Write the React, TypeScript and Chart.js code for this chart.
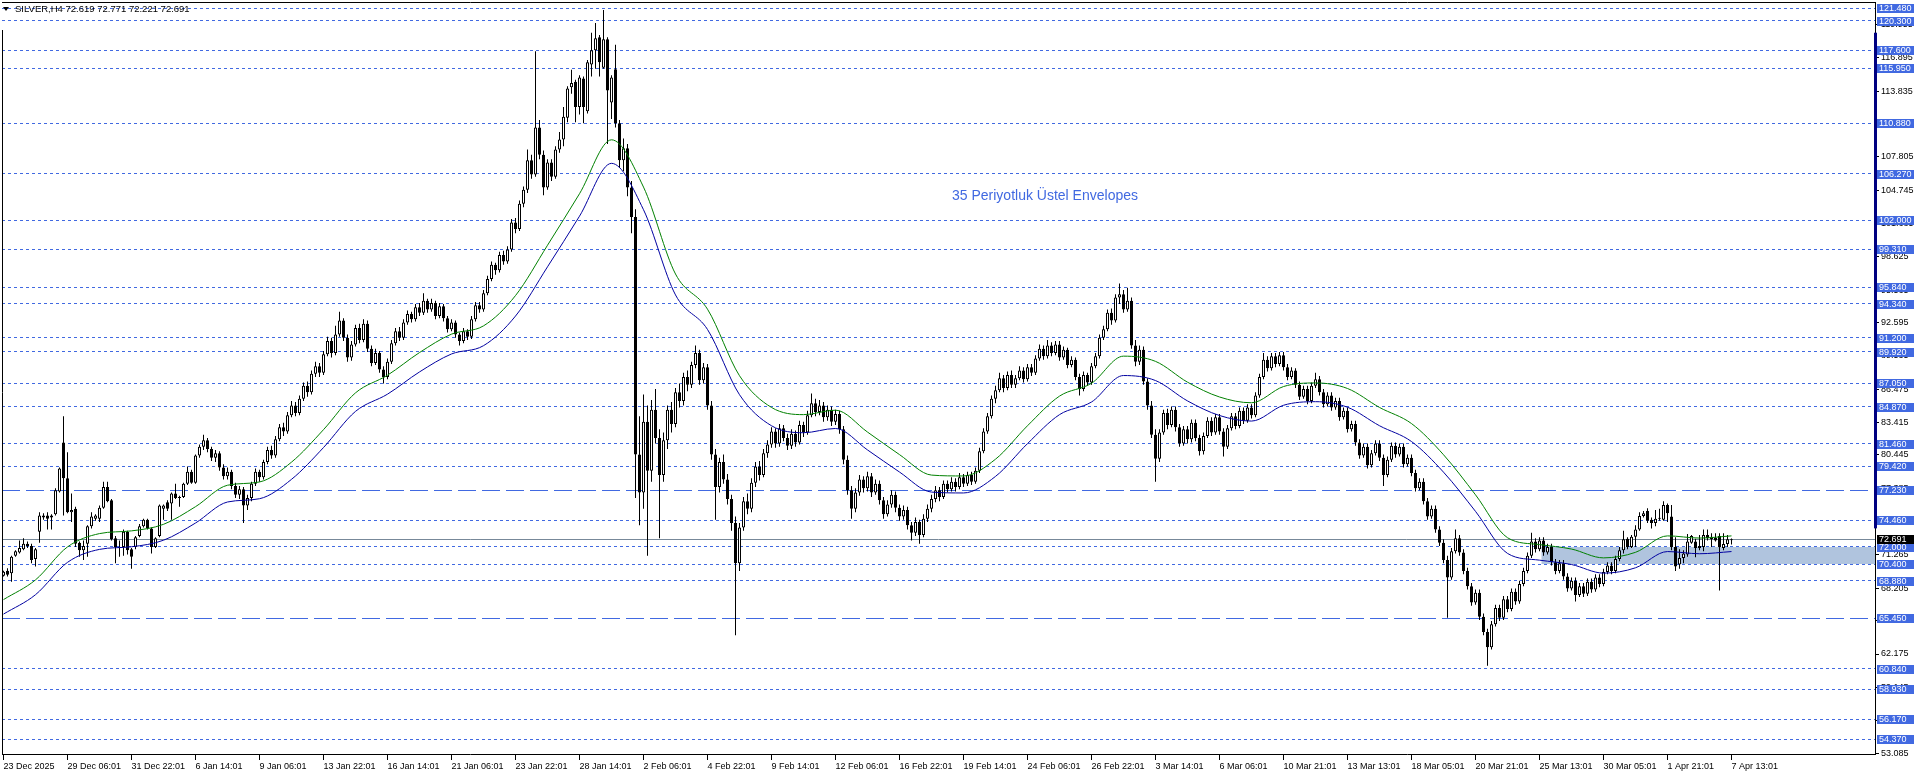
import React, { useEffect, useRef } from 'react';
import { Chart, registerables } from 'chart.js';

Chart.register(...registerables);

// ---------------- DATA ----------------
const opens = [
69.35,69.83,69.6,71.2,71.5,71.8,72.3,72.1,70.9,73.4,
74.7,74.9,74.7,75.0,77.1,81.6,78.3,75.2,75.5,72.4,
71.7,72.3,73.9,74.6,74.6,75.6,77.5,76.3,72.8,72.0,
72.0,73.4,71.8,72.0,73.0,73.9,74.5,73.7,72.0,73.0,
75.5,76.1,76.0,76.9,76.5,76.6,77.8,78.9,77.9,80.4,
81.2,81.8,81.0,80.2,80.6,79.3,78.5,78.9,77.6,76.8,
77.3,75.8,76.5,77.8,78.9,78.4,79.8,80.9,80.4,81.9,
83.0,82.6,84.1,85.0,84.3,85.6,86.8,86.2,87.9,88.6,
88.0,89.7,90.9,89.8,91.5,92.8,91.2,89.4,90.6,92.1,
91.0,92.5,90.2,88.9,89.8,88.3,87.6,89.0,90.7,91.8,
91.2,92.6,93.4,92.9,94.0,93.5,94.6,93.8,94.4,93.2,
94.1,93.0,92.0,92.6,91.5,90.9,91.8,91.3,92.9,94.2,
93.8,95.3,96.6,97.9,97.4,98.8,98.2,99.3,101.8,101.2,
103.5,104.8,107.5,106.2,110.5,108.0,105.0,107.3,106.0,108.5,
109.4,111.4,114.2,114.7,112.4,115.0,112.0,116.3,117.6,118.8,
116.0,118.6,112.8,115.85,110.9,107.5,108.6,105.0,102.3,80.5,
77.0,83.5,79.0,84.6,82.0,78.6,81.8,84.6,83.3,86.2,
85.4,87.6,86.9,88.7,89.8,87.3,88.5,85.0,80.5,77.5,
79.8,78.2,76.4,74.2,70.5,73.8,76.2,75.5,77.9,79.4,
78.6,80.6,81.4,82.6,81.5,82.9,82.0,81.3,82.4,81.6,
83.2,82.5,84.1,85.2,84.4,85.0,83.9,84.6,83.5,84.2,
82.8,80.0,77.2,75.5,77.0,78.2,77.4,78.5,77.0,77.8,
76.3,75.0,75.9,76.8,75.6,74.8,75.4,74.0,73.3,74.3,
73.1,74.6,75.5,76.4,77.2,76.6,77.8,77.3,78.0,77.5,
78.4,77.8,78.6,78.0,79.0,80.8,82.6,84.0,85.6,86.4,
87.5,86.6,87.8,86.9,87.5,88.2,87.4,88.5,88.0,89.3,
90.2,89.5,90.5,89.8,90.6,89.4,90.1,88.7,89.2,87.6,
86.5,87.8,87.1,88.6,89.5,91.2,92.0,93.5,92.8,94.9,
95.2,93.8,94.6,90.5,89.0,90.1,87.2,85.0,82.3,80.1,
82.5,84.3,83.2,84.6,83.0,81.5,82.8,81.9,83.4,82.0,
80.8,82.2,83.6,82.5,83.9,82.6,81.2,82.9,84.0,83.1,
84.5,83.6,84.8,84.1,85.9,87.6,89.2,88.4,89.5,88.8,
89.6,88.5,87.6,88.2,86.9,85.8,86.5,85.4,86.8,87.4,
86.2,85.1,85.9,84.8,85.4,83.9,84.5,82.8,83.3,81.6,
80.4,81.2,79.5,80.6,81.5,80.2,78.6,80.0,81.3,80.5,
81.2,79.6,80.2,78.8,77.4,78.0,76.2,74.8,75.5,73.6,
72.4,70.8,69.2,71.6,72.8,71.5,69.8,68.4,66.9,67.8,
65.6,64.2,62.8,64.9,66.4,65.5,67.2,66.3,67.9,67.0,
68.6,69.8,71.2,72.5,71.8,72.6,71.5,72.0,70.6,69.8,
70.5,69.3,68.2,68.9,67.6,68.4,67.7,68.8,68.1,69.2,
68.6,69.7,70.3,69.8,70.9,71.7,72.76,72.0,72.95,73.6,
74.84,75.3,74.5,74.2,74.6,74.5,75.85,74.8,72.0,70.4,
71.0,71.3,72.4,72.5,71.9,72.0,73.1,72.95,72.85,73.0,
71.9,72.27,72.619
];

const highs = [
69.83,70.05,71.2,71.7,72.6,72.8,72.5,72.3,71.9,75.2,
75.1,75.2,75.0,77.4,79.3,84.0,80.7,76.9,75.7,72.5,
72.6,74.0,75.2,75.0,75.8,78.0,78.0,76.4,73.0,72.6,
73.6,73.5,71.9,73.0,74.1,74.6,74.6,73.8,72.9,75.9,
75.9,76.3,77.0,77.8,76.7,77.9,79.4,79.1,80.5,81.4,
82.3,82.0,81.2,80.9,80.8,79.6,79.3,79.1,77.9,77.6,
77.5,76.8,78.0,79.2,79.1,80.0,81.2,81.3,82.2,83.3,
83.4,84.4,85.4,85.3,85.9,87.1,87.2,88.2,89.0,88.9,
90.0,91.3,91.2,92.3,93.6,93.0,91.5,90.9,92.4,92.5,
92.9,92.8,90.5,90.2,90.0,88.6,89.3,91.0,92.1,92.2,
92.9,93.7,93.6,94.3,94.4,95.3,94.8,94.8,94.6,94.4,
94.3,93.2,92.9,92.8,91.7,92.1,92.0,93.2,94.5,94.5,
95.6,96.9,98.2,98.1,99.1,99.2,99.6,102.1,102.2,103.8,
105.1,108.5,108.0,117.5,111.2,108.4,107.6,107.6,108.8,110.1,
112.4,114.3,115.8,114.9,115.3,115.2,116.7,119.2,120.1,119.0,
121.3,118.8,115.3,118.1,111.2,109.5,109.0,105.6,103.0,84.0,
86.0,85.0,85.5,86.5,82.8,82.5,85.0,85.3,86.6,87.0,
88.0,88.2,89.0,90.5,90.1,88.9,88.8,85.4,81.0,80.2,
80.5,78.7,76.8,74.8,74.2,76.6,76.9,78.3,79.8,79.9,
81.0,81.8,83.0,82.9,83.3,83.2,82.4,82.8,82.7,83.6,
83.5,84.5,86.1,85.6,85.5,85.3,85.0,84.9,84.6,84.5,
83.1,80.4,77.6,77.4,78.6,78.5,78.9,78.8,78.2,78.1,
76.6,76.3,77.2,77.1,75.9,75.8,75.7,74.3,74.7,74.5,
75.0,75.9,76.8,77.6,77.5,78.1,78.1,78.4,78.3,78.8,
78.7,78.9,78.9,79.3,81.1,82.9,84.3,85.9,86.8,88.0,
87.8,88.1,88.2,87.8,88.6,88.5,88.8,88.8,89.6,90.6,
90.5,91.0,90.8,90.9,90.9,90.4,90.3,89.5,89.4,87.9,
88.1,88.0,88.9,89.8,91.5,92.3,93.8,93.9,95.2,96.2,
95.6,95.8,94.9,91.0,90.5,90.4,87.5,85.4,82.8,82.8,
84.6,84.7,84.9,84.9,83.3,83.1,83.1,83.7,83.7,82.3,
82.5,83.9,83.9,84.2,84.2,82.9,83.2,84.3,84.3,84.8,
84.8,85.1,85.1,86.2,87.9,89.8,89.5,89.8,89.8,89.9,
89.9,88.8,88.5,88.4,87.2,86.8,86.8,87.1,88.0,87.7,
86.5,86.2,86.2,85.7,85.7,84.8,84.8,83.6,83.6,81.9,
81.5,81.5,80.9,81.8,81.8,80.5,80.3,81.6,81.6,81.5,
81.5,80.5,80.5,79.1,78.3,78.3,76.5,75.8,75.8,73.9,
72.7,71.2,71.9,73.6,73.1,71.8,70.1,68.7,68.1,68.1,
65.9,64.5,65.2,66.7,66.7,67.5,67.5,68.2,68.2,68.9,
70.1,71.5,73.3,72.8,72.9,72.9,72.3,72.3,70.9,70.8,
70.8,69.6,69.2,69.2,68.7,68.7,69.1,69.1,69.5,69.5,
70.0,70.6,70.6,71.2,72.0,73.5,72.9,73.1,74.0,75.2,
75.3,75.55,74.7,75.4,75.5,76.2,76.0,75.85,72.9,71.8,
71.7,73.2,73.1,72.75,73.1,73.6,73.6,73.25,73.25,73.25,
73.25,73.1,72.771
];

const lows = [
69.28,69.28,68.8,71.1,71.4,71.7,71.9,70.5,70.2,72.4,
74.5,73.6,73.6,74.9,77.0,74.9,75.1,74.3,72.0,71.1,
70.8,71.1,73.7,74.4,74.3,75.5,76.1,72.6,70.5,71.1,
71.2,71.3,70.0,71.8,72.9,73.8,73.6,71.4,71.9,72.9,
74.5,75.3,74.5,76.4,75.7,76.5,77.7,77.8,77.8,80.2,
80.9,80.7,79.9,79.8,79.0,78.2,78.2,77.3,76.5,76.4,
74.2,75.4,76.2,77.6,78.0,78.2,79.6,80.1,80.2,81.7,
82.2,82.4,83.9,84.0,84.1,85.4,85.8,86.0,87.6,87.6,
87.8,89.5,89.4,89.6,91.3,90.9,89.0,89.1,90.4,90.7,
90.8,89.9,88.6,88.7,88.0,87.0,87.4,88.8,90.5,90.9,
91.0,92.4,92.6,92.7,93.2,93.3,93.5,93.6,92.9,93.0,
92.7,91.7,91.8,91.2,90.5,90.7,91.0,91.1,92.7,93.5,
93.6,95.1,96.4,97.0,97.2,97.9,98.0,99.1,100.8,101.0,
103.2,104.5,105.8,106.0,107.6,104.3,104.8,105.6,105.8,108.2,
108.8,111.0,113.6,111.0,111.7,110.9,111.8,115.2,115.9,115.2,
115.9,109.0,111.3,110.5,106.8,106.5,104.2,100.8,76.5,74.0,
75.5,71.2,78.0,81.5,72.8,78.0,81.0,82.5,83.0,84.8,
85.0,86.3,86.6,88.4,86.9,87.0,84.6,80.0,74.5,77.0,
77.8,75.9,73.5,63.9,69.8,73.5,75.0,75.2,77.5,78.1,
78.4,80.2,81.1,81.1,81.2,81.7,80.9,81.0,81.2,81.4,
82.1,82.3,83.9,84.0,84.1,83.5,83.6,83.1,83.2,82.4,
79.6,76.8,74.6,75.2,76.7,77.0,77.1,76.6,76.8,75.9,
74.6,74.8,75.6,75.2,74.4,74.5,73.6,72.6,73.0,72.3,
72.9,74.3,75.2,76.1,76.2,76.4,77.0,77.1,77.1,77.3,
77.5,77.6,77.7,77.8,78.8,80.6,82.4,83.8,85.2,86.2,
86.2,86.4,86.6,86.6,87.3,87.1,87.2,87.7,87.8,89.1,
89.2,89.3,89.5,89.6,89.1,89.2,88.4,88.5,87.3,85.9,
86.3,86.8,86.9,88.4,89.3,91.0,91.8,92.4,92.6,94.3,
93.5,93.6,90.2,88.6,88.7,86.9,84.6,82.0,78.0,79.8,
82.3,82.8,83.0,82.6,81.2,81.3,81.5,81.6,81.7,80.4,
80.5,82.0,82.2,82.3,82.3,80.3,81.0,82.7,82.8,82.9,
83.3,83.4,83.8,83.9,85.7,87.4,88.1,88.2,88.5,88.6,
88.2,87.3,87.4,86.6,85.5,85.6,85.1,85.2,86.6,85.9,
84.8,84.9,84.5,84.6,83.6,83.7,82.5,82.6,81.3,80.1,
80.2,79.2,79.3,80.4,79.9,77.6,78.4,79.8,80.2,80.3,
79.3,79.4,78.5,77.1,77.2,75.9,74.5,74.6,73.3,72.1,
70.5,65.5,69.0,71.4,71.2,69.5,68.1,66.6,66.7,65.3,
63.9,61.1,62.6,64.7,65.2,65.3,66.0,66.1,66.7,66.8,
68.4,69.6,71.0,71.5,71.6,71.2,71.3,70.3,69.5,69.6,
69.0,67.9,68.0,67.0,67.4,67.4,67.5,67.8,67.9,68.3,
68.4,69.5,69.5,69.6,70.7,71.4,71.8,71.9,72.0,73.5,
74.7,74.2,73.7,73.9,74.4,74.4,74.3,71.7,69.8,70.0,
70.5,71.1,72.3,71.05,71.7,71.6,72.6,72.0,72.5,68.0,
71.7,72.0,72.221
];

const closes = [
69.73,69.46,71.1,71.6,71.9,72.3,72.1,70.8,71.8,74.9,
74.9,74.6,74.9,77.2,79.2,78.3,75.2,75.4,72.3,71.7,
72.1,73.9,74.8,74.9,75.6,77.5,76.2,72.7,72.0,71.9,
73.4,71.7,71.1,72.9,73.9,74.5,73.7,72.0,72.8,75.8,
75.8,75.5,76.9,76.5,76.6,77.8,78.9,77.9,80.4,81.2,
81.8,81.0,80.2,80.6,79.3,78.5,78.9,77.6,76.8,77.3,
75.8,76.5,77.8,78.9,78.4,79.8,80.9,80.4,81.9,83.0,
82.6,84.1,85.0,84.3,85.6,86.8,86.2,87.9,88.6,88.0,
89.7,90.9,89.8,91.5,92.8,91.2,89.4,90.6,92.1,91.0,
92.5,90.2,88.9,89.8,88.3,87.6,89.0,90.7,91.8,91.2,
92.6,93.4,92.9,94.0,93.5,94.6,93.8,94.4,93.2,94.1,
93.0,92.0,92.6,91.5,90.9,91.8,91.3,92.9,94.2,93.8,
95.3,96.6,97.9,97.4,98.8,98.2,99.3,101.8,101.2,103.5,
104.8,107.5,106.2,110.5,108.0,105.0,107.3,106.0,108.5,109.4,
111.5,114.1,114.6,112.4,115.1,112.4,116.5,117.6,118.7,116.5,
118.6,113.9,115.1,110.9,107.5,108.6,105.0,102.3,80.5,77.0,
83.5,79.0,84.6,82.0,78.6,81.8,84.6,83.3,86.2,85.4,
87.6,86.9,88.7,89.8,87.3,88.5,85.0,80.5,77.5,79.8,
78.2,76.4,74.2,70.5,73.8,76.2,75.5,77.9,79.4,78.6,
80.6,81.4,82.6,81.5,82.9,82.0,81.3,82.4,81.6,83.2,
82.5,84.1,85.2,84.4,85.0,83.9,84.6,83.5,84.2,82.8,
80.0,77.2,75.5,77.0,78.2,77.4,78.5,77.0,77.8,76.3,
75.0,75.9,76.8,75.6,74.8,75.4,74.0,73.3,74.3,73.1,
74.6,75.5,76.4,77.2,76.6,77.8,77.3,78.0,77.5,78.4,
77.8,78.6,78.0,79.0,80.8,82.6,84.0,85.6,86.4,87.5,
86.6,87.8,86.9,87.5,88.2,87.4,88.5,88.0,89.3,90.2,
89.5,90.5,89.8,90.6,89.4,90.1,88.7,89.2,87.6,86.5,
87.8,87.1,88.6,89.5,91.2,92.0,93.5,92.8,94.9,95.2,
93.8,94.6,90.5,89.0,90.1,87.2,85.0,82.3,80.1,82.5,
84.3,83.2,84.6,83.0,81.5,82.8,81.9,83.4,82.0,80.8,
82.2,83.6,82.5,83.9,82.6,81.2,82.9,84.0,83.1,84.5,
83.6,84.8,84.1,85.9,87.6,89.2,88.4,89.5,88.8,89.6,
88.5,87.6,88.2,86.9,85.8,86.5,85.4,86.8,87.4,86.2,
85.1,85.9,84.8,85.4,83.9,84.5,82.8,83.3,81.6,80.4,
81.2,79.5,80.6,81.5,80.2,78.6,80.0,81.3,80.5,81.2,
79.6,80.2,78.8,77.4,78.0,76.2,74.8,75.5,73.6,72.4,
70.8,69.2,71.6,72.8,71.5,69.8,68.4,66.9,67.8,65.6,
64.2,62.8,64.9,66.4,65.5,67.2,66.3,67.9,67.0,68.6,
69.8,71.2,72.5,71.8,72.6,71.5,72.0,70.6,69.8,70.5,
69.3,68.2,68.9,67.6,68.4,67.7,68.8,68.1,69.2,68.6,
69.7,70.3,69.8,70.9,71.7,72.7,72.0,72.95,73.6,74.84,
75.09,74.4,74.2,74.6,74.65,75.85,75.1,72.0,70.2,71.0,
71.4,72.5,73.0,71.9,72.1,73.1,72.8,72.7,72.6,71.97,
72.27,72.7,72.691
];

// Envelope (35-period exponential) lines at every 8th bar
const envBars = [0,8,16,24,32,40,48,56,64,72,80,88,96,104,112,120,128,136,144,152,160,168,176,184,192,200,208,216,224,232,240,248,256,264,272,280,288,296,304,312,320,328,336,344,352,360,368,376,384,392,400,408,416,424,432];
const envUpper = [67.17,68.98,72.01,73.23,73.48,74.08,75.70,77.67,77.97,79.79,82.77,86.15,87.77,89.85,91.54,92.30,95.08,99.70,104.43,109.38,105.04,97.06,93.83,87.72,84.81,84.15,84.56,82.55,80.48,78.60,78.52,80.06,83.13,85.85,87.03,89.52,89.04,87.13,85.77,85.24,86.73,87.06,86.55,84.81,83.33,80.47,76.79,72.85,72.22,71.81,71.00,71.51,73.02,72.82,73.02];
const envLower = [65.84,67.62,70.59,71.78,72.02,72.62,74.20,76.13,76.43,78.21,81.13,84.45,86.03,88.07,89.72,90.48,93.20,97.72,102.37,107.22,102.96,95.14,91.97,85.98,83.13,82.49,82.88,80.91,78.88,77.04,76.96,78.48,81.49,84.15,85.31,87.74,87.28,85.41,84.07,83.56,85.01,85.34,84.83,83.13,81.68,78.87,75.27,71.41,70.79,70.39,69.60,70.09,71.58,71.38,71.58];

const timeTickBars = [0,16,32,48,64,80,96,112,128,144,160,176,192,208,224,240,256,272,288,304,320,336,352,368,384,400,416,432];
const timeLabels = ['23 Dec 2025','29 Dec 06:01','31 Dec 22:01','6 Jan 14:01','9 Jan 06:01','13 Jan 22:01','16 Jan 14:01','21 Jan 06:01','23 Jan 22:01','28 Jan 14:01','2 Feb 06:01','4 Feb 22:01','9 Feb 14:01','12 Feb 06:01','16 Feb 22:01','19 Feb 14:01','24 Feb 06:01','26 Feb 22:01','3 Mar 14:01','6 Mar 06:01','10 Mar 21:01','13 Mar 13:01','18 Mar 05:01','20 Mar 21:01','25 Mar 13:01','30 Mar 05:01','1 Apr 21:01','7 Apr 13:01'];

const priceTicks = [53.085,56.115,59.145,62.175,65.235,68.205,71.265,74.325,77.385,80.445,83.415,86.475,89.535,92.595,95.565,98.625,101.685,104.745,107.805,110.865,113.835,116.895,119.955];

const dottedLevels = [121.48,120.3,117.6,115.95,110.88,106.27,102.0,99.31,95.84,94.34,91.2,89.92,87.05,84.87,81.46,79.42,74.46,72.0,70.4,68.88,60.84,58.93,56.17,54.37];
const dashedLevels = [77.23,65.45];

const zoneTop = 72.0;
const zoneBottom = 70.4;
const zoneStartBar = 384.5;
const bidPrice = 72.691;
const rangeBarTop = 119.21;
const rangeBarBottom = 73.71;

const headerText = 'SILVER,H4 72.619 72.771 72.221 72.691';
const titleText = '35 Periyotluk Üstel Envelopes';

const yMax = 122.031;
const yMin = 52.904;
const xMin = -0.375;
const xMax = 467.875;

const FONT = 'Liberation Sans';
const LEVEL_BLUE = '#4169e1';

export default function App() {
  const ref = useRef<HTMLCanvasElement | null>(null);

  useEffect(() => {
    document.body.style.margin = '0';
    const canvas = ref.current;
    if (!canvas) return;

    const bodyData = closes.map((c, i) => ({ x: i, y: [opens[i], c] }));
    const wickData = closes.map((_, i) => ({ x: i, y: [lows[i], highs[i]] }));
    const bodyColors = closes.map((c, i) => (c >= opens[i] ? '#ffffff' : '#000000'));
    const upperData = envBars.map((b, k) => ({ x: b, y: envUpper[k] }));
    const lowerData = envBars.map((b, k) => ({ x: b, y: envLower[k] }));

    const overlay: any = {
      id: 'mt4overlay',
      beforeDatasetsDraw(chart: any) {
        const { ctx, chartArea: a, scales } = chart;
        const xs = scales.x;
        const ys = scales.y;
        ctx.save();
        ctx.beginPath();
        ctx.rect(a.left, a.top, a.right - a.left, a.bottom - a.top);
        ctx.clip();
        const zx = xs.getPixelForValue(zoneStartBar);
        const zt = Math.round(ys.getPixelForValue(zoneTop));
        const zb = Math.round(ys.getPixelForValue(zoneBottom));
        ctx.fillStyle = '#b0c4de';
        ctx.fillRect(zx, zt, a.right - zx, zb - zt);
        ctx.lineWidth = 1;
        ctx.strokeStyle = LEVEL_BLUE;
        ctx.setLineDash([3, 3]);
        for (const v of dottedLevels) {
          const y = Math.floor(ys.getPixelForValue(v)) + 0.5;
          ctx.beginPath();
          ctx.moveTo(a.left, y);
          ctx.lineTo(a.right, y);
          ctx.stroke();
        }
        ctx.setLineDash([18, 6]);
        for (const v of dashedLevels) {
          const y = Math.floor(ys.getPixelForValue(v)) + 0.5;
          ctx.beginPath();
          ctx.moveTo(a.left, y);
          ctx.lineTo(a.right, y);
          ctx.stroke();
        }
        ctx.setLineDash([]);
        ctx.strokeStyle = '#778899';
        const by = Math.floor(ys.getPixelForValue(bidPrice)) + 0.5;
        ctx.beginPath();
        ctx.moveTo(a.left, by);
        ctx.lineTo(a.right, by);
        ctx.stroke();
        ctx.restore();
      },
      afterDraw(chart: any) {
        const { ctx, chartArea: a, scales } = chart;
        const ys = scales.y;
        ctx.save();
        ctx.strokeStyle = '#000';
        ctx.lineWidth = 1;
        ctx.setLineDash([]);
        ctx.beginPath();
        ctx.moveTo(a.left, a.top + 0.5);
        ctx.lineTo(a.right + 1, a.top + 0.5);
        ctx.moveTo(a.right + 0.5, a.top);
        ctx.lineTo(a.right + 0.5, a.bottom);
        ctx.moveTo(a.left, a.bottom - 0.5);
        ctx.lineTo(a.right + 1, a.bottom - 0.5);
        ctx.moveTo(a.left + 0.5, 30);
        ctx.lineTo(a.left + 0.5, a.bottom);
        ctx.stroke();
        const rt = ys.getPixelForValue(rangeBarTop);
        const rb = ys.getPixelForValue(rangeBarBottom);
        ctx.fillStyle = '#000080';
        ctx.fillRect(a.right - 1, rt, 3, rb - rt);
        ctx.font = `9px "${FONT}"`;
        ctx.textBaseline = 'middle';
        ctx.textAlign = 'left';
        const tags = [...dottedLevels, ...dashedLevels];
        for (const v of tags) {
          const cy = Math.round(ys.getPixelForValue(v));
          ctx.fillStyle = LEVEL_BLUE;
          ctx.fillRect(a.right + 2, cy - 4, 37, 9);
          ctx.fillStyle = '#ffffff';
          ctx.fillText(v.toFixed(3), a.right + 4, cy + 0.5);
        }
        const bcy = Math.round(ys.getPixelForValue(bidPrice));
        ctx.fillStyle = '#000000';
        ctx.fillRect(a.right + 2, bcy - 4, 37, 9);
        ctx.fillStyle = '#ffffff';
        ctx.fillText(bidPrice.toFixed(3), a.right + 4, bcy + 0.5);
        ctx.fillStyle = '#000';
        ctx.beginPath();
        ctx.moveTo(3, 7);
        ctx.lineTo(9, 7);
        ctx.lineTo(6, 11);
        ctx.closePath();
        ctx.fill();
        ctx.font = `9.5px "${FONT}"`;
        ctx.fillText(headerText, 15, 9.5);
        ctx.fillStyle = LEVEL_BLUE;
        ctx.font = `14px "${FONT}"`;
        ctx.fillText(titleText, 952, 196);
        ctx.restore();
      },
    };

    const chart = new Chart(canvas, {
      type: 'bar',
      data: {
        datasets: [
          {
            type: 'line',
            label: 'Upper',
            data: upperData,
            borderColor: '#008000',
            borderWidth: 1,
            pointRadius: 0,
            cubicInterpolationMode: 'monotone',
            fill: false,
          } as any,
          {
            type: 'line',
            label: 'Lower',
            data: lowerData,
            borderColor: '#0000a0',
            borderWidth: 1,
            pointRadius: 0,
            cubicInterpolationMode: 'monotone',
            fill: false,
          } as any,
          {
            type: 'bar',
            label: 'Body',
            data: bodyData,
            backgroundColor: bodyColors,
            borderColor: '#000000',
            borderWidth: 1,
            borderSkipped: false,
            barThickness: 3,
            minBarLength: 1,
            grouped: false,
            inflateAmount: 0,
          } as any,
          {
            type: 'bar',
            label: 'Wick',
            data: wickData,
            backgroundColor: '#000000',
            borderWidth: 0,
            barThickness: 1,
            grouped: false,
            inflateAmount: 0,
          } as any,
        ],
      },
      options: {
        responsive: false,
        animation: false,
        devicePixelRatio: 1,
        events: [],
        layout: { padding: { left: 2, top: 2, right: 0, bottom: 0 }, autoPadding: false } as any,
        plugins: { legend: { display: false }, tooltip: { enabled: false } },
        scales: {
          x: {
            type: 'linear',
            position: 'bottom',
            offset: false,
            min: xMin,
            max: xMax,
            afterFit: (s: any) => {
              s.height = 21;
              s.paddingLeft = 0;
              s.paddingRight = 0;
            },
            afterBuildTicks: (s: any) => {
              s.ticks = timeTickBars.map((v) => ({ value: v }));
            },
            ticks: {
              autoSkip: false,
              maxRotation: 0,
              minRotation: 0,
              align: 'start',
              padding: 1,
              color: '#000',
              font: { family: FONT, size: 9 },
              callback: (value: any) => {
                const k = timeTickBars.indexOf(Number(value));
                return k >= 0 ? timeLabels[k] : '';
              },
            },
            grid: { offset: false, drawOnChartArea: false, drawTicks: true, tickLength: 5, color: '#000' },
            border: { display: false },
          } as any,
          y: {
            type: 'linear',
            position: 'right',
            min: yMin,
            max: yMax,
            afterFit: (s: any) => {
              s.width = 41;
              s.paddingTop = 0;
              s.paddingBottom = 0;
            },
            afterBuildTicks: (s: any) => {
              s.ticks = priceTicks.map((v) => ({ value: v }));
            },
            ticks: {
              autoSkip: false,
              padding: 2,
              color: '#000',
              font: { family: FONT, size: 9 },
              callback: (value: any) => Number(value).toFixed(3),
            },
            grid: { drawOnChartArea: false, drawTicks: true, tickLength: 4, color: '#000' },
            border: { display: false },
          } as any,
        },
      },
      plugins: [overlay],
    } as any);

    return () => {
      chart.destroy();
    };
  }, []);

  return (
    <div style={{ width: 1916, height: 776, background: '#ffffff' }}>
      <canvas ref={ref} width={1916} height={776} style={{ display: 'block', width: 1916, height: 776 }} />
    </div>
  );
}
